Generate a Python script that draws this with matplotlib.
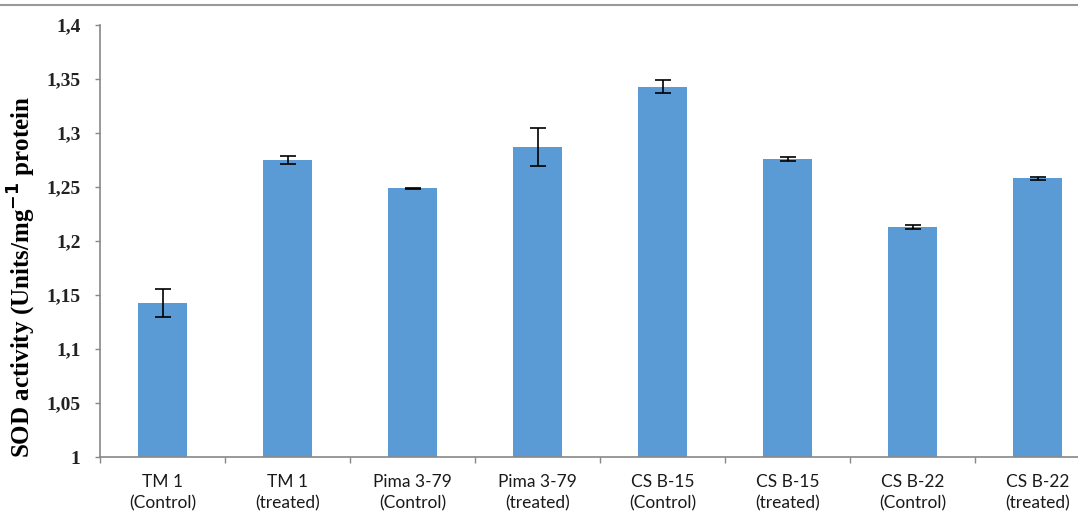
import matplotlib.pyplot as plt
from matplotlib.lines import Line2D
from matplotlib.ticker import FuncFormatter

genotypes = ["TM 1", "TM 1", "Pima 3-79", "Pima 3-79", "CS B-15", "CS B-15", "CS B-22", "CS B-22"]
conditions = ["(Control)", "(treated)", "(Control)", "(treated)", "(Control)", "(treated)", "(Control)", "(treated)"]
sod = [1.143, 1.275, 1.249, 1.287, 1.343, 1.276, 1.213, 1.258]
sod_err = [0.013, 0.004, 0.0005, 0.018, 0.006, 0.002, 0.002, 0.0015]

labels = [g + "\n" + c for g, c in zip(genotypes, conditions)]
x = list(range(len(sod)))

fig = plt.figure(figsize=(10.78, 5.18), dpi=100)
ax = fig.add_axes([100 / 1078, 61 / 518, 1000 / 1078, 432 / 518])

ax.bar(x, [v - 1 for v in sod], bottom=1, width=0.39, color="#5B9BD5", zorder=2)
ax.errorbar(x, sod, yerr=sod_err, fmt="none", ecolor="black", elinewidth=1.2,
            capsize=6, capthick=1.2, zorder=3)

ax.set_xlim(-0.5, 7.5)
ax.set_ylim(1.0, 1.4)
ax.set_yticks([1 + 0.05 * i for i in range(9)])
ax.yaxis.set_major_formatter(FuncFormatter(lambda v, p: ("%g" % round(v, 2)).replace(".", ",")))

# category labels sit between the boundary ticks
ax.set_xticks(x)
ax.set_xticklabels(labels, fontsize=12.5, family="Lato", color="#1a1a1a", linespacing=1.45)
ax.tick_params(axis="x", length=0, pad=12)
ax.set_xticks([i - 0.5 for i in range(9)], minor=True)
ax.tick_params(axis="x", which="minor", length=4.5, color="#888888", width=1)
ax.tick_params(axis="y", length=3.5, color="#888888", width=1, pad=10.5)
for t in ax.get_yticklabels():
    t.set_family("Liberation Serif")
    t.set_fontweight("bold")
    t.set_fontsize(14)
    t.set_color("#222222")

for side in ["top", "right"]:
    ax.spines[side].set_visible(False)
for side in ["left", "bottom"]:
    ax.spines[side].set_color("#888888")
    ax.spines[side].set_linewidth(1.2)

fig.text(22 / 1078, 1 - 277 / 518, r"SOD activity (Units/mg$^{\mathbf{-1}}$ protein", rotation=90,
         ha="center", va="center", family="Liberation Serif", fontweight="bold", fontsize=18)

fig.add_artist(Line2D([0, 1], [1 - 4.5 / 518, 1 - 4.5 / 518], color="#999999", lw=1.5))

fig.savefig("out.png", dpi=100)
